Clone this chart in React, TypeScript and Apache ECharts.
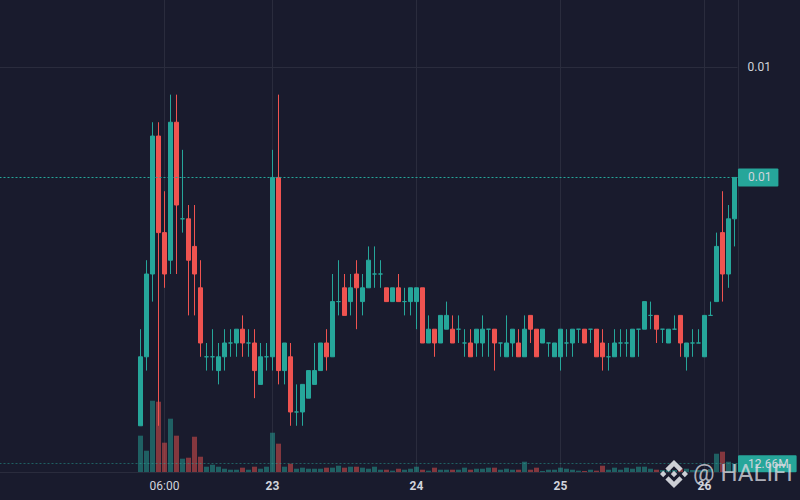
import React, { useEffect, useRef } from "react";
import * as echarts from "echarts";

const priceUnit = 0.0001;
const opens = [74,79,85,95,88,86,96,89,89,87,84,79,79,78,79,80,80,81,80,80,77,79,79,92,78,79,75,75,76,77,78,80,79,83,84,83,85,83,84,85,85,84,83,84,83,83,83,84,80,81,80,81,81,81,80,80,80,80,81,81,80,79,80,80,79,82,81,80,80,79,79,80,80,81,81,81,81,80,79,79,80,80,79,81,81,82,82,81,80,81,82,79,80,80,79,82,83,88,85,89];
const closes = [79,85,95,88,85,96,90,89,86,85,80,79,79,79,80,80,81,80,80,78,79,79,92,78,80,75,75,77,78,78,80,79,83,83,82,84,84,84,86,85,85,83,84,83,83,84,84,80,81,80,82,82,80,81,80,79,81,81,81,80,80,80,81,79,81,81,79,81,80,80,81,80,81,81,80,81,79,79,79,80,80,80,81,81,83,82,81,81,81,81,80,80,80,80,82,82,87,85,89,92];
const highs = [81,86,96,96,91,98,98,94,90,90,86,80,81,80,81,81,81,82,81,81,80,80,94,98,80,80,77,77,78,80,80,81,85,86,85,85,86,85,87,87,86,84,84,85,84,84,84,84,82,81,82,83,82,82,81,81,81,82,81,81,80,82,81,81,82,82,81,81,80,80,81,81,81,81,81,81,81,81,80,81,81,81,81,81,83,83,82,81,81,82,82,80,81,81,82,83,88,91,90,92];
const lows = [74,78,83,74,84,85,85,88,82,82,79,78,78,77,78,79,79,79,79,76,77,78,78,77,77,74,74,74,76,77,78,78,79,82,82,82,81,82,84,84,84,83,83,83,82,82,81,80,80,79,80,81,80,80,79,79,79,79,79,78,79,79,79,79,79,80,79,80,79,79,78,79,79,80,80,80,79,78,78,79,79,79,79,79,81,81,80,80,80,81,79,78,79,80,79,82,83,83,84,87];
const volumes = [55.4,32.5,108.7,107.2,44.7,81.3,55.4,20.3,21.8,53.8,23.3,8.1,11.1,8.1,5.0,3.5,3.5,6.6,3.5,8.1,5.0,8.1,59.9,43.2,8.1,12.7,5.0,6.6,5.0,5.0,5.0,6.6,6.6,9.6,6.6,8.1,8.1,6.6,5.0,8.1,3.5,3.5,2.0,5.0,3.5,5.0,8.1,3.5,2.0,6.6,3.5,3.5,3.5,3.5,6.6,3.5,5.0,5.0,6.6,6.6,3.5,5.0,3.5,3.5,15.7,3.5,6.6,1.5,3.5,3.5,6.6,5.0,3.5,2.0,1.5,3.5,2.0,9.6,3.5,6.6,3.5,6.6,5.0,8.1,8.1,5.0,3.5,3.0,3.0,3.0,5.0,5.0,3.0,3.0,3.0,4.5,27.9,31.0,15.7,12.66];
const tickLabels: Record<number, string> = { 4: "06:00", 22: "23", 46: "24", 70: "25", 94: "26" };
const leadingEmptyBars = 23;
const lastPrice = 0.0092;
const lastVolume = 12.66;

const UP = "#26a69a";
const DOWN = "#ef5350";
const UP_VOL = "rgba(38,166,154,0.5)";
const DOWN_VOL = "rgba(239,83,80,0.5)";
const BG = "#191b2d";
const GRID = "#2a2c3d";
const TEXT = "#d1d4dc";
const FONT = "Roboto, 'Liberation Sans', Arial, sans-serif";

const bnbLogo =
  "M38.73 53.2L63.32 28.62L87.92 53.22L102.22 38.91L63.32 0L24.42 38.9Z" +
  "M0 63.31L14.3 49L28.61 63.31L14.3 77.61Z" +
  "M38.73 73.41L63.32 98L87.92 73.4L102.23 87.69L63.33 126.6L24.42 87.72L24.4 87.7Z" +
  "M98 63.31L112.3 49L126.61 63.3L112.3 77.62Z" +
  "M77.83 63.3L63.32 48.78L52.59 59.51L51.35 60.74L48.81 63.28L63.32 77.78L77.83 63.31Z";

export default function App() {
  const ref = useRef<HTMLDivElement>(null);
  useEffect(() => {
    if (!ref.current) return;
    echarts.graphic.registerShape("logo", echarts.graphic.extendPath(bnbLogo, {}));
    const chart = echarts.init(ref.current, undefined, { renderer: "svg" });
    const pad = (n: number) => Array.from({ length: n }, () => "");
    const categories = [
      ...pad(leadingEmptyBars),
      ...opens.map((_, i) => tickLabels[i] ?? ""),
    ];
    const blanks = Array.from({ length: leadingEmptyBars }, () => "-");
    const candles = opens.map((o, i) => [
      o * priceUnit,
      closes[i] * priceUnit,
      lows[i] * priceUnit,
      highs[i] * priceUnit,
    ]);
    const volBars = volumes.map((v, i) => ({
      value: v,
      itemStyle: { color: closes[i] >= opens[i] ? UP_VOL : DOWN_VOL },
    }));
    const hasLabel = (_: number, v: string) => v !== "";
    chart.setOption({
      animation: false,
      backgroundColor: BG,
      grid: [
        { left: -0.5, width: 738, top: 0, height: 472, containLabel: false, outerBoundsMode: "none" },
        { left: -0.5, width: 738, top: 372, height: 100, containLabel: false, outerBoundsMode: "none" },
      ],
      xAxis: [
        {
          type: "category",
          gridIndex: 0,
          data: categories,
          boundaryGap: true,
          axisLine: { show: true, lineStyle: { color: GRID, width: 1 } },
          axisTick: { show: false, alignWithLabel: true, interval: hasLabel },
          axisLabel: {
            show: true,
            interval: hasLabel,
            margin: 8,
            fontFamily: FONT,
            hideOverlap: false,
            formatter: (v: string) => (v.includes(":") ? `{t|${v}}` : `{d|${v}}`),
            rich: {
              t: { fontSize: 12, fontFamily: FONT, color: TEXT },
              d: { fontSize: 12, fontFamily: FONT, color: TEXT, fontWeight: "bold" },
            },
          },
          splitLine: {
            show: true,
            alignWithLabel: true,
            interval: hasLabel,
            lineStyle: { color: GRID, width: 1 },
          },
        },
        {
          type: "category",
          gridIndex: 1,
          data: categories,
          boundaryGap: true,
          axisLine: { show: false },
          axisTick: { show: false },
          axisLabel: { show: false },
          splitLine: { show: false },
        },
      ],
      yAxis: [
        {
          type: "value",
          gridIndex: 0,
          position: "right",
          offset: 1,
          min: 0.007065,
          max: 0.010486,
          axisLine: { show: true, lineStyle: { color: GRID, width: 1 } },
          axisTick: { show: false, customValues: [0.01] },
          axisLabel: {
            show: true,
            customValues: [0.01],
            margin: 9,
            fontSize: 12,
            fontFamily: FONT,
            color: TEXT,
            formatter: (v: number) => v.toFixed(2),
          },
          splitLine: { show: true, lineStyle: { color: GRID, width: 1 } },
        },
        {
          type: "value",
          gridIndex: 1,
          position: "right",
          min: 0,
          max: 152.5,
          axisLine: { show: false },
          axisTick: { show: false },
          axisLabel: { show: false },
          splitLine: { show: false },
        },
      ],
      series: [
        {
          type: "bar",
          xAxisIndex: 1,
          yAxisIndex: 1,
          barWidth: 5,
          z: 1,
          data: [...blanks, ...volBars],
          markLine: {
            silent: true,
            symbol: "none",
            animation: false,
            precision: 6,
            lineStyle: { color: UP_VOL, type: [2, 2], width: 1 },
            label: {
              show: true,
              position: "end",
              distance: 0,
              offset: [0.5, 0],
              formatter: `${lastVolume.toFixed(2)}M`,
              color: TEXT,
              fontSize: 12,
              fontFamily: FONT,
              backgroundColor: UP,
              padding: [3, 8, 2, 10],
              borderRadius: 1,
            },
            data: [{ yAxis: lastVolume }],
          },
        },
        {
          type: "candlestick",
          xAxisIndex: 0,
          yAxisIndex: 0,
          barWidth: 4,
          z: 3,
          itemStyle: {
            color: UP,
            color0: DOWN,
            borderColor: UP,
            borderColor0: DOWN,
            borderColorDoji: UP,
            borderWidth: 1,
          },
          data: [...blanks, ...candles],
          markLine: {
            silent: true,
            symbol: "none",
            animation: false,
            precision: 6,
            lineStyle: { color: UP, type: [2, 2], width: 1 },
            label: {
              show: true,
              position: "end",
              distance: 0,
              offset: [0.5, 0],
              formatter: () => lastPrice.toFixed(2),
              color: TEXT,
              fontSize: 12,
              fontFamily: FONT,
              backgroundColor: UP,
              padding: [3, 7, 3, 10],
              borderRadius: 1,
            },
            data: [{ yAxis: lastPrice }],
          },
        },
      ],
      graphic: [
        {
          type: "logo",
          x: 660,
          y: 460,
          scaleX: 0.221,
          scaleY: 0.221,
          z: 100,
          style: { fill: "rgba(225,227,232,0.9)" },
        },
        {
          type: "text",
          x: 693,
          y: 461,
          z: 100,
          style: {
            text: "@ HALIFI",
            font: `24px ${FONT}`,
            fill: "rgba(215,217,224,0.8)",
          },
        },
      ],
    });
    return () => chart.dispose();
  }, []);
  return (
    <div
      ref={ref}
      style={{ position: "absolute", left: 0, top: 0, width: 800, height: 500 }}
    />
  );
}
